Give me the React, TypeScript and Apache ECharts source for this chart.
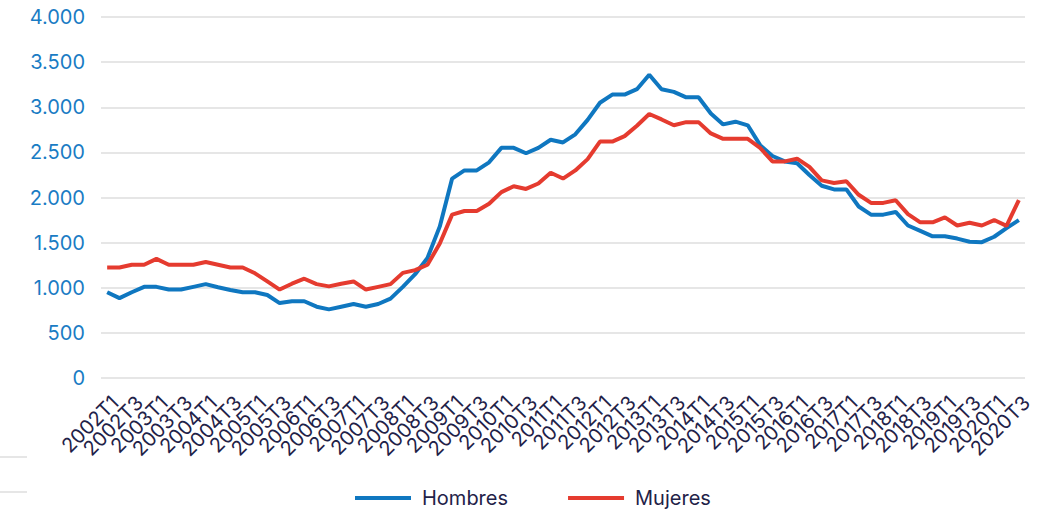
import React, { useEffect, useRef } from "react";
import * as echarts from "echarts";

const categories = [
  "2002T1","2002T2","2002T3","2002T4","2003T1","2003T2","2003T3","2003T4",
  "2004T1","2004T2","2004T3","2004T4","2005T1","2005T2","2005T3","2005T4",
  "2006T1","2006T2","2006T3","2006T4","2007T1","2007T2","2007T3","2007T4",
  "2008T1","2008T2","2008T3","2008T4","2009T1","2009T2","2009T3","2009T4",
  "2010T1","2010T2","2010T3","2010T4","2011T1","2011T2","2011T3","2011T4",
  "2012T1","2012T2","2012T3","2012T4","2013T1","2013T2","2013T3","2013T4",
  "2014T1","2014T2","2014T3","2014T4","2015T1","2015T2","2015T3","2015T4",
  "2016T1","2016T2","2016T3","2016T4","2017T1","2017T2","2017T3","2017T4",
  "2018T1","2018T2","2018T3","2018T4","2019T1","2019T2","2019T3","2019T4",
  "2020T1","2020T2","2020T3",
];

const hombres = [
  950, 885, 950, 1010, 1010, 980, 980, 1010, 1040, 1005, 975, 950,
  950, 920, 830, 850, 850, 790, 760, 790, 820, 790, 820, 880,
  1010, 1150, 1330, 1680, 2210, 2300, 2300, 2390, 2550, 2550, 2490, 2550,
  2640, 2610, 2700, 2860, 3050, 3140, 3140, 3200, 3360, 3200, 3170, 3110,
  3110, 2930, 2810, 2840, 2800, 2580, 2460, 2400, 2380, 2250, 2130, 2090,
  2090, 1900, 1810, 1810, 1840, 1690, 1630, 1570, 1570, 1545, 1510, 1505,
  1565, 1660, 1750,
];

const mujeres = [
  1225, 1225, 1255, 1255, 1320, 1255, 1255, 1255, 1285, 1255, 1225, 1225,
  1160, 1070, 980, 1045, 1100, 1040, 1015, 1045, 1070, 980, 1010, 1040,
  1165, 1195, 1255, 1490, 1810, 1850, 1850, 1930, 2060, 2125, 2095, 2155,
  2275, 2210, 2300, 2425, 2620, 2620, 2680, 2795, 2925, 2865, 2800, 2835,
  2835, 2710, 2650, 2650, 2650, 2550, 2400, 2400, 2430, 2340, 2190, 2160,
  2180, 2030, 1940, 1940, 1970, 1815, 1725, 1725, 1780, 1690, 1720, 1690,
  1750, 1685, 1970,
];

const seriesNames = ["Hombres", "Mujeres"];
const BLUE = "#0f77c0";
const RED = "#e53b2f";
const NAVY = "#1f2248";
const FONT = "Inter, 'Noto Sans', sans-serif";

function fmt(v: number): string {
  return String(v).replace(/\B(?=(\d{3})+(?!\d))/g, ".");
}

export default function App() {
  const ref = useRef<HTMLDivElement>(null);
  useEffect(() => {
    if (!ref.current) return;
    const chart = echarts.init(ref.current, undefined, { renderer: "svg" });
    chart.setOption({
      animation: false,
      backgroundColor: "#ffffff",
      grid: { left: 101, right: 18, top: 17, bottom: 134, containLabel: false },
      legend: {
        data: seriesNames,
        left: 350,
        top: 483,
        icon: "rect",
        itemWidth: 56,
        itemHeight: 4,
        itemGap: 60,
        textStyle: { color: NAVY, fontSize: 20, fontFamily: FONT, padding: [0, 0, 0, 6] },
      },
      xAxis: {
        type: "category",
        data: categories,
        boundaryGap: true,
        axisLine: { show: false },
        axisTick: { show: false },
        axisLabel: {
          interval: 0,
          hideOverlap: false,
          rotate: 45,
          margin: 29,
          padding: [0, -11, 0, 0],
          color: NAVY,
          fontSize: 20,
          fontFamily: FONT,
          formatter: (value: string, index: number) => (index % 2 === 0 ? value : ""),
        },
      },
      yAxis: {
        type: "value",
        min: 0,
        max: 4000,
        interval: 500,
        axisLine: { show: false },
        axisTick: { show: false },
        splitLine: { lineStyle: { color: "#dedede", width: 1.5 } },
        axisLabel: {
          margin: 16,
          color: "#1a7cc4",
          fontSize: 20,
          fontFamily: FONT,
          formatter: (v: number) => fmt(v),
        },
      },
      series: [
        {
          name: seriesNames[0],
          type: "line",
          data: hombres,
          symbol: "none",
          lineStyle: { color: BLUE, width: 4 },
          itemStyle: { color: BLUE },
        },
        {
          name: seriesNames[1],
          type: "line",
          data: mujeres,
          symbol: "none",
          lineStyle: { color: RED, width: 4 },
          itemStyle: { color: RED },
        },
      ],
      graphic: [
        { type: "line", shape: { x1: 0, y1: 457, x2: 27, y2: 457 }, style: { stroke: "#dedede", lineWidth: 1.5 } },
        { type: "line", shape: { x1: 0, y1: 492, x2: 27, y2: 492 }, style: { stroke: "#dedede", lineWidth: 1.5 } },
      ],
    });
    return () => chart.dispose();
  }, []);
  return (
    <div
      ref={ref}
      style={{ position: "fixed", left: 0, top: 0, width: 1043, height: 512 }}
    />
  );
}
